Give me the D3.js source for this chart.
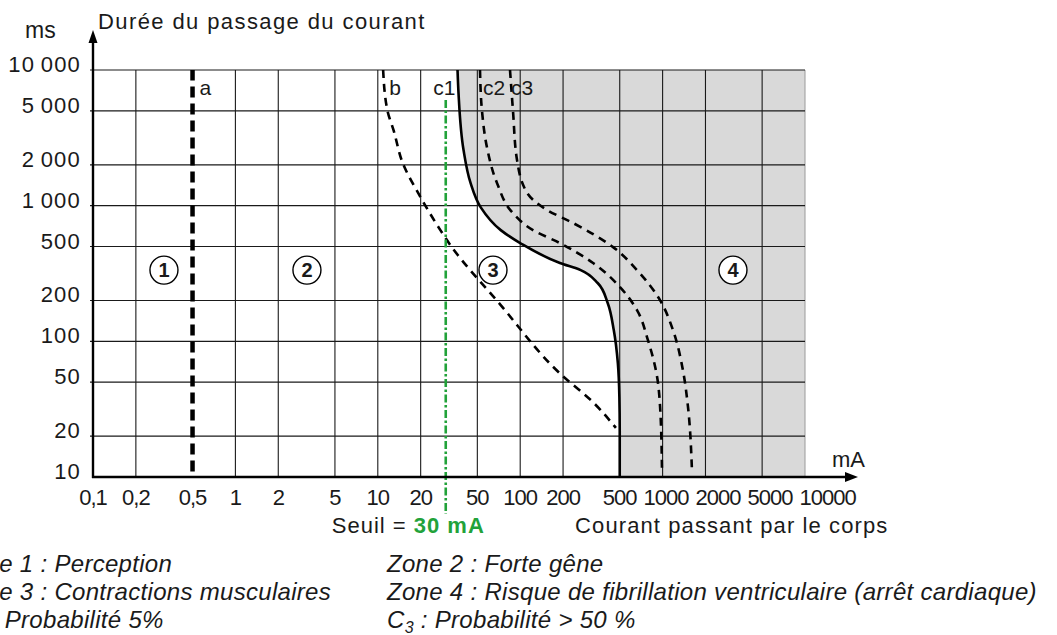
<!DOCTYPE html>
<html>
<head>
<meta charset="utf-8">
<script src="https://cdn.jsdelivr.net/npm/d3@7"></script>
<style>
  body { margin: 0; background: #fff; }
  svg { display: block; font-family: "Liberation Sans", Arial, sans-serif; }
</style>
</head>
<body>
<svg id="chart" width="1057" height="635"></svg>
<script>
// Current through the body (mA) – tick values and their labels
const xTicks = [0.1, 0.2, 0.5, 1, 2, 5, 10, 20, 50, 100, 200, 500, 1000, 2000, 5000, 10000];
const xTickLabels = ["0,1", "0,2", "0,5", "1", "2", "5", "10", "20", "50", "100", "200", "500", "1000", "2000", "5000", "10000"];
const xGrid = [0.2, 1, 2, 5, 10, 20, 50, 100, 200, 500, 1000, 2000, 5000];

// Duration of current flow (ms)
const yTicks = [10, 20, 50, 100, 200, 500, 1000, 2000, 5000, 10000];
const yTickLabels = ["10", "20", "50", "100", "200", "500", "1\u2009000", "2\u2009000", "5\u2009000", "10\u2009000"];

// Boundary curves, [mA, ms]
const curveA = [[0.5, 11], [0.5, 10000]];
const curveB = [[10.9, 10000], [11.7, 5000], [12.9, 3600], [15, 2050], [20, 1150], [27.5, 660], [32, 520],
                [73, 185], [190, 58], [330, 35], [470, 23]];
const curveC1 = [[36.3, 10000], [36.9, 6700], [40, 2570], [44.8, 1470], [52.7, 975], [73, 660], [100, 530],
                 [190, 378], [266, 335], [350, 269], [412, 191], [454, 121], [485, 69], [497, 39], [500, 22], [500, 10]];
const curveC2 = [[52.2, 10000], [53.9, 5000], [58.4, 2700], [68.7, 1470], [89, 880], [123, 660], [190, 530],
                 [325, 378], [502, 251], [661, 170], [789, 102], [914, 55], [960, 33], [990, 11.3]];
const curveC3 = [[84.8, 10000], [89, 5000], [95, 2170], [112, 1240], [154, 930], [235, 745], [449, 495],
                 [661, 335], [959, 201], [1183, 121], [1390, 61], [1507, 33], [1607, 11.3]];

// Threshold (mA)
const threshold = 30;

// Circled zone numbers, anchored in data units [mA, ms]
const zones = [
  { label: "1", mA: 0.315, ms: 335 },
  { label: "2", mA: 3.18, ms: 335 },
  { label: "3", mA: 64.4, ms: 335 },
  { label: "4", mA: 3120, ms: 335 }
];

const legendLeft = [
  [{ t: "Zone 1 : Perception" }],
  [{ t: "Zone 3 : Contractions musculaires" }],
  [{ t: "C" }, { t: "1", sub: true }, { t: " : Probabilité 5%" }]
];
const legendRight = [
  [{ t: "Zone 2 : Forte gêne" }],
  [{ t: "Zone 4 : Risque de fibrillation ventriculaire (arrêt cardiaque)" }],
  [{ t: "C" }, { t: "3", sub: true }, { t: " : Probabilité > 50 %" }]
];

const svg = d3.select("#chart");
const ink = "#1a1a1a";

const x = d3.scaleLog().domain([0.1, 10000]).range([93, 805]);
const y = d3.scaleLog().domain([10, 10000]).range([477, 70]);

const line = d3.line()
  .x(d => x(d[0]))
  .y(d => y(d[1]))
  .curve(d3.curveMonotoneY);

// Zone 4 shading: everything to the right of c1
const c1Path = line(curveC1);
svg.append("path")
  .attr("d", c1Path + `L${x(10000)},${y(10)}L${x(10000)},${y(10000)}Z`)
  .attr("fill", "#d9d9d9");
svg.append("line")
  .attr("x1", x(10000)).attr("x2", x(10000))
  .attr("y1", y(10000)).attr("y2", y(10))
  .attr("stroke", "#9a9a9a").attr("stroke-width", 1);

// Grid
const grid = svg.append("g").attr("stroke", ink).attr("stroke-width", 1.1);
grid.selectAll("line.h").data(yTicks.slice(1)).join("line")
  .attr("x1", x(0.1) - 3).attr("x2", x(10000))
  .attr("y1", d => y(d)).attr("y2", d => y(d));
grid.selectAll("line.v").data(xGrid).join("line")
  .attr("x1", d => x(d)).attr("x2", d => x(d))
  .attr("y1", y(10000)).attr("y2", y(10));

// Curves
svg.append("path").attr("d", line(curveA))
  .attr("fill", "none").attr("stroke", "#000").attr("stroke-width", 4.5).attr("stroke-dasharray", "11,6");
[curveB, curveC2, curveC3].forEach(c => {
  svg.append("path").attr("d", line(c))
    .attr("fill", "none").attr("stroke", "#000").attr("stroke-width", 2.6).attr("stroke-dasharray", "8,6");
});
svg.append("path").attr("d", c1Path)
  .attr("fill", "none").attr("stroke", "#000").attr("stroke-width", 2.6);

// 30 mA threshold
const green = "#22a23a";
svg.append("line")
  .attr("x1", x(threshold)).attr("x2", x(threshold))
  .attr("y1", y(6000)).attr("y2", y(10) + 37)
  .attr("stroke", green).attr("stroke-width", 2.6).attr("stroke-dasharray", "8,2.5,2.5,2.5");

// Axes with arrow heads
const axes = svg.append("g");
axes.append("line").attr("x1", x(0.1)).attr("x2", x(0.1)).attr("y1", y(10) + 1).attr("y2", 40)
  .attr("stroke", "#000").attr("stroke-width", 2.4);
axes.append("path").attr("d", `M${x(0.1)},30L${x(0.1) - 4.5},43L${x(0.1) + 4.5},43Z`).attr("fill", "#000");
axes.append("line").attr("x1", x(0.1) - 1).attr("x2", 847).attr("y1", y(10)).attr("y2", y(10))
  .attr("stroke", "#000").attr("stroke-width", 2.4);
axes.append("path").attr("d", `M858,${y(10)}L845,${y(10) - 5}L845,${y(10) + 5}Z`).attr("fill", "#000");

// Y tick labels
svg.append("g").selectAll("text").data(yTicks).join("text")
  .attr("x", x(0.1) - 12)
  .attr("y", d => y(d) + 2)
  .attr("text-anchor", "end")
  .attr("font-size", 22).attr("letter-spacing", 1.2).attr("fill", ink)
  .text((d, i) => yTickLabels[i]);

// X tick labels: centred on the tick, pushed right where they would collide
const xl = svg.append("g").selectAll("text").data(xTicks).join("text")
  .attr("y", y(10) + 28)
  .attr("font-size", 22).attr("letter-spacing", -1).attr("fill", ink)
  .text((d, i) => xTickLabels[i]);
let prevEnd = -Infinity;
xl.each(function (d) {
  const w = this.getComputedTextLength();
  const start = Math.max(x(d) - w / 2, prevEnd + 7);
  d3.select(this).attr("x", start);
  prevEnd = start + w;
});

// Axis titles
svg.append("text").attr("x", 25).attr("y", 38).attr("font-size", 23).attr("fill", ink).text("ms");
svg.append("text").attr("x", x(0.1) + 5).attr("y", 29).attr("font-size", 22).attr("letter-spacing", 1.4)
  .attr("fill", ink).text("Durée du passage du courant");
svg.append("text").attr("x", 832).attr("y", 467).attr("font-size", 22).attr("fill", ink).text("mA");
svg.append("text").attr("x", x(200) + 12).attr("y", 533).attr("font-size", 22).attr("letter-spacing", 1.1)
  .attr("fill", ink).text("Courant passant par le corps");
const seuil = svg.append("text").attr("x", x(threshold) - 114).attr("y", 533).attr("font-size", 22)
  .attr("letter-spacing", 1).attr("fill", ink);
seuil.append("tspan").text("Seuil = ");
seuil.append("tspan").attr("fill", green).attr("font-weight", "bold").text(threshold + " mA");

// Curve names
const curveNames = [
  { t: "a", px: x(curveA[1][0]) + 7, anchor: "start" },
  { t: "b", px: x(curveB[0][0]) + 6, anchor: "start" },
  { t: "c1", px: x(curveC1[0][0]) - 2, anchor: "end" },
  { t: "c2", px: x(curveC2[0][0]) + 3, anchor: "start" },
  { t: "c3", px: x(curveC3[0][0]) + 1, anchor: "start" }
];
svg.append("g").selectAll("text").data(curveNames).join("text")
  .attr("x", d => d.px).attr("y", 95).attr("text-anchor", d => d.anchor)
  .attr("font-size", 21).attr("fill", ink).text(d => d.t);

// Zone numbers in circles
const zg = svg.append("g").selectAll("g").data(zones).join("g")
  .attr("transform", d => `translate(${x(d.mA)},${y(d.ms)})`);
zg.append("circle").attr("r", 14).attr("fill", "#fff").attr("stroke", "#000").attr("stroke-width", 1.4);
zg.append("text").attr("text-anchor", "middle").attr("dy", 7).attr("font-size", 20)
  .attr("font-weight", "bold").attr("fill", ink).text(d => d.label);

// Legend
function legendColumn(rows, left) {
  rows.forEach((parts, i) => {
    const t = svg.append("text").attr("x", left).attr("y", 572 + i * 28)
      .attr("font-size", 24).attr("font-style", "italic").attr("letter-spacing", 0.3).attr("fill", ink);
    parts.forEach((p, j) => {
      const s = t.append("tspan").text(p.t);
      if (p.sub) s.attr("font-size", 16).attr("dy", 5);
      else if (j > 0) s.attr("dy", -5);
    });
  });
}
legendColumn(legendLeft, -43);
legendColumn(legendRight, 387);
</script>
</body>
</html>
